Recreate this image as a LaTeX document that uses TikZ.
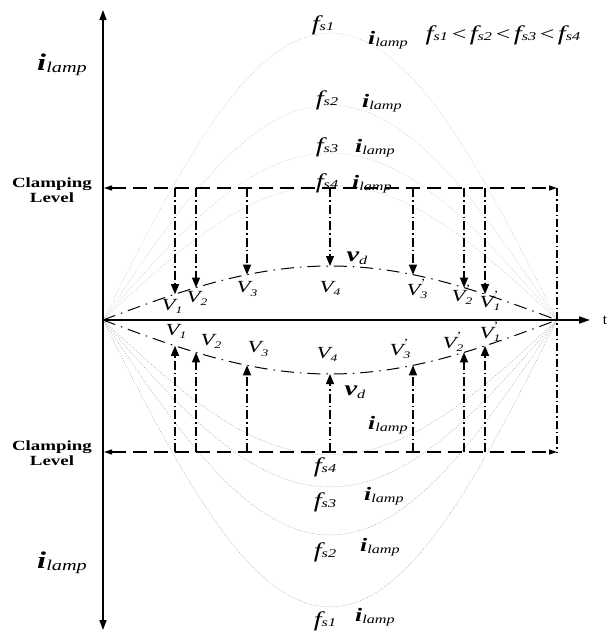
\documentclass[tikz,border=0pt]{standalone}
\usepackage{fontspec}
\setmainfont{Liberation Serif}
\usetikzlibrary{arrows.meta}
\newcommand{\sx}[1]{\scalebox{1.35}[1]{#1}}
\newcommand{\ilampbig}{\sx{\fontsize{24}{24}\selectfont\bfseries\itshape i\raisebox{-0.15ex}{\fontsize{15}{15}\selectfont\mdseries lamp}}}
\newcommand{\ilamp}{\sx{\fontsize{19}{19}\selectfont\bfseries\itshape i\raisebox{-0.2ex}{\fontsize{12}{12}\selectfont\mdseries lamp}}}
\newcommand{\fsraw}[1]{{\fontsize{21}{21}\selectfont\itshape f\fontsize{12}{12}\selectfont s#1}}
\newcommand{\fs}[1]{\sx{\fsraw{#1}}}
\newcommand{\Vl}[1]{\sx{\fontsize{17}{17}\selectfont\itshape V\raisebox{-0.4ex}{\fontsize{10}{10}\selectfont #1}}}
\newcommand{\Vp}[1]{\sx{\fontsize{17}{17}\selectfont\itshape V\makebox[0pt][l]{\raisebox{0.5em}{\fontsize{11}{11}\selectfont\upshape '}}\raisebox{-0.4ex}{\fontsize{10}{10}\selectfont #1}}}
\newcommand{\vdl}{\sx{\fontsize{21}{21}\selectfont\bfseries\itshape v\raisebox{-0.3ex}{\fontsize{12}{12}\selectfont\mdseries d}}}
\newcommand{\clamplbl}{\sx{\fontsize{14}{17}\selectfont\bfseries\begin{tabular}{@{}c@{}}Clamping\\[-2pt]Level\end{tabular}}}
\begin{document}
\begin{tikzpicture}[x=1pt,y=-1pt,
  lbl/.style={inner sep=0pt, outer sep=0pt},
  axisline/.style={line width=1.5pt},
  clampline/.style={line width=1.3pt, dash pattern=on 14pt off 7pt, {Triangle[length=8pt,width=5pt]}-{Triangle[length=8pt,width=5pt]}},
  dropline/.style={line width=1.3pt, dash pattern=on 9pt off 3pt on 1.5pt off 3pt, -{Triangle[length=10pt,width=8pt]}},
  vdline/.style={line width=1pt, dash pattern=on 13pt off 6pt on 1.5pt off 6pt},
  lamptop/.style={line width=0.5pt, gray!45, dash pattern=on 1pt off 1.5pt},
  lampbot/.style={line width=0.5pt, gray!70, dash pattern=on 1pt off 1.5pt},
  edgeline/.style={line width=1.1pt, dash pattern=on 8pt off 3pt on 1.5pt off 3pt},
]
\useasboundingbox (0,0) rectangle (609,633);
% key points
\coordinate (O) at (103,320);
\coordinate (E) at (557,320);
\coordinate (X) at (590,320);
\coordinate (Ttop) at (103,10);
\coordinate (Tbot) at (103,630);
\coordinate (CLt) at (104,188);
\coordinate (CRt) at (557,188);
\coordinate (CLb) at (104,452);
\coordinate (CRb) at (557,452);
% lamp currents
\foreach \amp in {287,215,167,135} {
  \draw[lamptop] plot[domain=0:180, samples=90] ({103+2.52222*\x},{320-\amp*sin(\x)});
  \draw[lampbot] plot[domain=0:180, samples=90] ({103+2.52222*\x},{320+\amp*sin(\x)});
}
% vd curves
\draw[vdline] plot[domain=0:180, samples=90] ({103+2.52222*\x},{320-54*sin(\x)});
\draw[vdline] plot[domain=0:180, samples=90] ({103+2.52222*\x},{320+54*sin(\x)});
% axes
\draw[axisline, {Triangle[length=10pt,width=7pt]}-{Triangle[length=10pt,width=7pt]}] (Tbot) -- (Ttop);
\draw[axisline, -{Triangle[length=11pt,width=7pt]}] (O) -- (X);
% clamping lines
\draw[clampline] (CLt) -- (CRt);
\draw[clampline] (CLb) -- (CRb);
\draw[edgeline] (CRt) -- (CRb);
% drop arrows
\foreach \d/\n in {72/1,93/2,144/3,227/4,310/5,361/6,382/7} {
  \coordinate (ut\n) at ({103+\d},188);
  \coordinate (vt\n) at ({103+\d},{320-54*sin(0.396476*\d)});
  \coordinate (ub\n) at ({103+\d},452);
  \coordinate (vb\n) at ({103+\d},{320+54*sin(0.396476*\d)});
  \draw[dropline] (ut\n) -- (vt\n);
  \draw[dropline] (ub\n) -- (vb\n);
}
% left labels
\node[lbl] (il1) at (62,65) {\ilampbig};
\node[lbl] (il2) at (62,563) {\ilampbig};
\node[lbl] (cl1) at (52,192) {\clamplbl};
\node[lbl] (cl2) at (52,455) {\clamplbl};
\node[lbl] (tl) at (605,320) {\fontsize{15}{15}\selectfont t};
% top labels
\node[lbl] (f1t) at (323,25) {\fs{1}};
\node[lbl] (i1t) at (388,40) {\ilamp};
\node[lbl] (rel) at (503,35) {\sx{\fsraw{1}\,{\fontsize{19}{19}\selectfont\itshape <}\,\fsraw{2}\,{\fontsize{19}{19}\selectfont\itshape <}\,\fsraw{3}\,{\fontsize{19}{19}\selectfont\itshape <}\,\fsraw{4}}};
\node[lbl] (f2t) at (327,100) {\fs{2}};
\node[lbl] (i2t) at (382,103) {\ilamp};
\node[lbl] (f3t) at (327,147) {\fs{3}};
\node[lbl] (i3t) at (375,148) {\ilamp};
\node[lbl] (f4t) at (327,183) {\fs{4}};
\node[lbl] (i4t) at (372,184) {\ilamp};
% bottom labels
\node[lbl] (i5b) at (388,425) {\ilamp};
\node[lbl] (f4b) at (325,467) {\fs{4}};
\node[lbl] (f3b) at (325,502) {\fs{3}};
\node[lbl] (i3b) at (384,496) {\ilamp};
\node[lbl] (f2b) at (325,552) {\fs{2}};
\node[lbl] (i2b) at (380,547) {\ilamp};
\node[lbl] (f1b) at (325,621) {\fs{1}};
\node[lbl] (i1b) at (375,617) {\ilamp};
% vd labels
\node[lbl] (vdt) at (357,258) {\vdl};
\node[lbl] (vdb) at (355,392) {\vdl};
% V labels top
\node[lbl] (V1t) at (172,306) {\Vl{1}};
\node[lbl] (V2t) at (197,298) {\Vl{2}};
\node[lbl] (V3t) at (247,289) {\Vl{3}};
\node[lbl] (V4t) at (330,288) {\Vl{4}};
\node[lbl] (V5t) at (417,289) {\Vp{3}};
\node[lbl] (V6t) at (462,295) {\Vp{2}};
\node[lbl] (V7t) at (490,301) {\Vp{1}};
% V labels bottom
\node[lbl] (V1b) at (176,331) {\Vl{1}};
\node[lbl] (V2b) at (211,341) {\Vl{2}};
\node[lbl] (V3b) at (258,349) {\Vl{3}};
\node[lbl] (V4b) at (327,354) {\Vl{4}};
\node[lbl] (V5b) at (400,349) {\Vp{3}};
\node[lbl] (V6b) at (453,342) {\Vp{2}};
\node[lbl] (V7b) at (490,332) {\Vp{1}};
\end{tikzpicture}
\end{document}
